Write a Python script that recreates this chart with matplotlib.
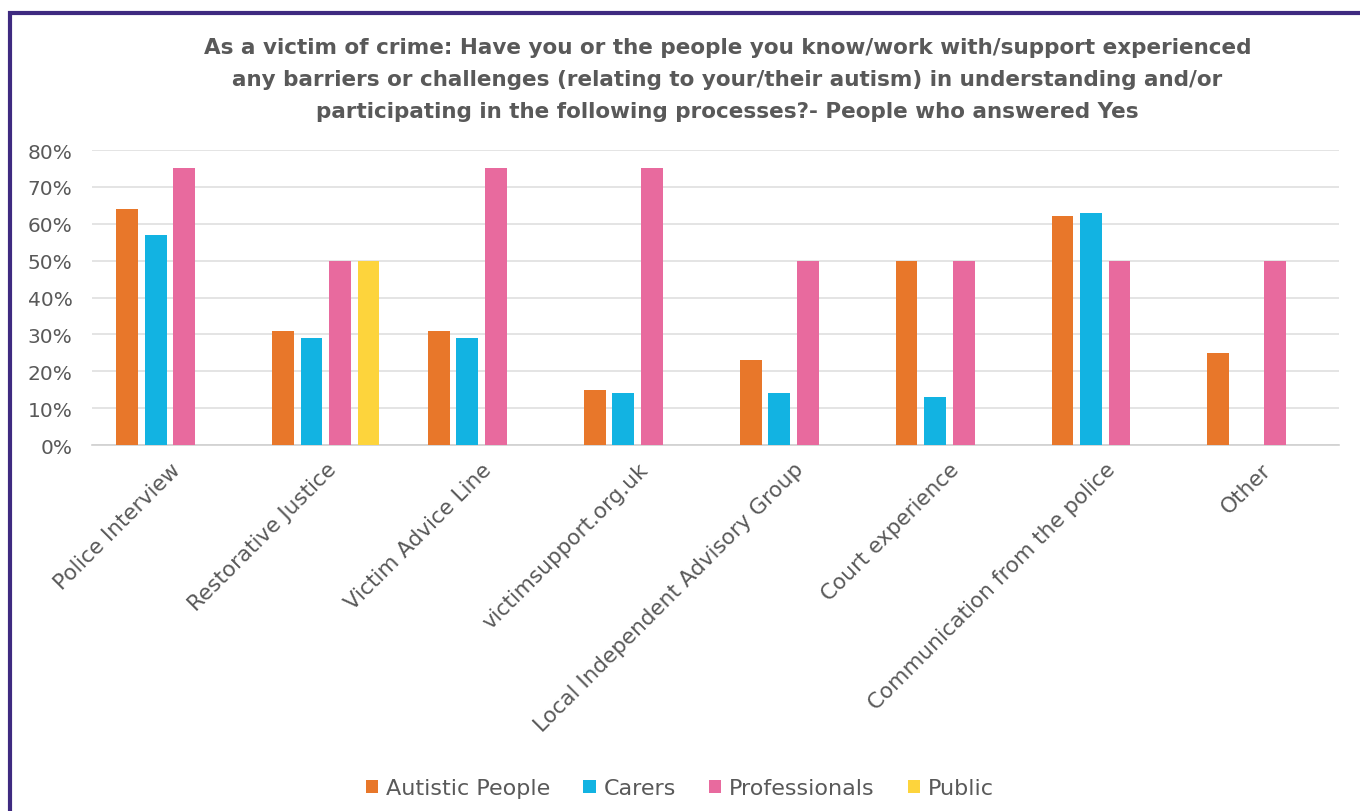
import numpy as np
import matplotlib.pyplot as plt
from matplotlib.patches import Rectangle

# Datos (porcentaje que respondio "Yes")
categorias = ["Police Interview", "Restorative Justice", "Victim Advice Line",
              "victimsupport.org.uk", "Local Independent Advisory Group",
              "Court experience", "Communication from the police", "Other"]
autistas = [64, 31, 31, 15, 23, 50, 62, 25]
cuidadores = [57, 29, 29, 14, 14, 13, 63, 0]
profesionales = [75, 50, 75, 75, 50, 50, 50, 50]
publico = [0, 50, 0, 0, 0, 0, 0, 0]

series = ["Autistic People", "Carers", "Professionals", "Public"]
colores = ["#E8772A", "#12B3E2", "#E86A9E", "#FDD43C"]
titulo = ("As a victim of crime: Have you or the people you know/work with/support experienced\n"
          "any barriers or challenges (relating to your/their autism) in understanding and/or\n"
          "participating in the following processes?- People who answered Yes")

gris = "#595959"
plt.rcParams['font.family'] = ['DejaVu Sans']

fig = plt.figure(figsize=(13.6, 8.12), dpi=100)
ax = fig.add_axes([0.0676, 0.4507, 0.917, 0.3633])

x = np.arange(len(categorias))
ancho = 0.14
paso = 0.183
valores = [autistas, cuidadores, profesionales, publico]
for i, (nombre, vals, col) in enumerate(zip(series, valores, colores)):
    ax.bar(x + (i - 1.5) * paso, np.array(vals) / 100, ancho, color=col, label=nombre, zorder=3)

ax.set_xlim(-0.5, len(categorias) - 0.5)
ax.set_ylim(0, 0.8)
ax.set_yticks(np.arange(0, 0.81, 0.1))
ax.set_yticklabels([f"{int(round(v * 100))}%" for v in np.arange(0, 0.81, 0.1)])
ax.yaxis.grid(True, color="#DDDDDD", lw=1.1, zorder=0)
for s in ["top", "right", "left"]:
    ax.spines[s].set_visible(False)
ax.spines["bottom"].set_color("#D0D0D0")
ax.spines["bottom"].set_linewidth(1.2)
ax.tick_params(axis="both", length=0, colors=gris)
ax.tick_params(axis="y", pad=14, labelsize=14.5)

ax.set_xticks(x)
ax.set_xticklabels(categorias, rotation=45, ha="right", va="top",
                   rotation_mode="anchor", fontsize=15.5, color=gris)
ax.tick_params(axis="x", pad=10)

fig.text(0.535, 0.9015, titulo, ha="center", va="center", fontsize=15.5,
         fontweight="bold", color=gris, linespacing=1.75)

fig.legend(loc="center", bbox_to_anchor=(0.5, 0.028), ncol=4, frameon=False,
           fontsize=16, handlelength=0.55, handleheight=0.55, handletextpad=0.35,
           columnspacing=1.5, labelcolor=gris)

fig.add_artist(Rectangle((10 / 1360, -0.1), 1.2, 1 - 14 / 812 + 0.1, fill=False,
                         edgecolor="#3E2A80", lw=3, transform=fig.transFigure))

fig.savefig("out.png", dpi=100, facecolor="white")
